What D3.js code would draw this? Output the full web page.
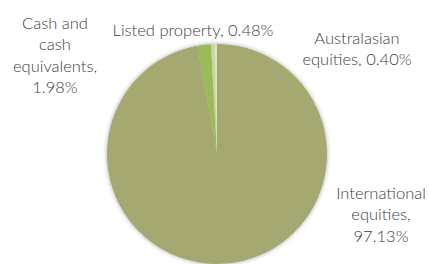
<!DOCTYPE html>
<html>
<head>
<meta charset="utf-8">
<script src="https://cdn.jsdelivr.net/npm/d3@7"></script>
<style>
  body { margin: 0; background: #fff; }
  svg text { font-family: Lato, "Noto Sans", sans-serif; font-size: 16.5px; font-weight: 300; fill: #404040; }
</style>
</head>
<body>
<svg id="chart" width="429" height="264"></svg>
<script>
// data
categories = ["International equities", "Cash and cash equivalents", "Listed property", "Australasian equities"]
values = [97.13, 1.98, 0.48, 0.40]
colours = ["#a6a872", "#9bbb59", "#c3d69b", "#d7e4bd"]
// label lines for each slice
labelLines = [
    ["International", "equities,", "97.13%"],
    ["Cash and", "cash", "equivalents,", "1.98%"],
    ["Listed property, 0.48%"],
    ["Australasian", "equities, 0.40%"]
]
labelPos = [[381, 193], [55, 23], [193, 30], [357, 38]]

width = 429
height = 264
cx = 217
cy = 154
radius = 110

svg = d3.select("#chart")

defs = svg.append("defs")
f = defs.append("filter").attr("id", "shadow")
    .attr("x", "-10%").attr("y", "-10%").attr("width", "120%").attr("height", "120%")
f.append("feDropShadow")
    .attr("dx", 0).attr("dy", 0).attr("stdDeviation", 2)
    .attr("flood-color", "#000").attr("flood-opacity", 0.35)

pie = d3.pie().sort(null).value(d => d)
arc = d3.arc().innerRadius(0).outerRadius(radius)

g = svg.append("g")
    .attr("transform", `translate(${cx},${cy})`)
    .attr("filter", "url(#shadow)")

g.selectAll("path")
    .data(pie(values))
    .join("path")
    .attr("d", arc)
    .attr("fill", (d, i) => colours[i])

labels = svg.append("g")
labels.selectAll("text")
    .data(labelLines)
    .join("text")
    .attr("text-anchor", "middle")
    .attr("transform", (d, i) => `translate(${labelPos[i][0]},${labelPos[i][1]})`)
    .each(function(lines){
        t = d3.select(this)
        lines.forEach((line, j) => {
            t.append("tspan")
                .attr("x", 0)
                .attr("y", j * 21.5)
                .attr("dy", "0.35em")
                .text(line)
        })
    })
</script>
</body>
</html>
